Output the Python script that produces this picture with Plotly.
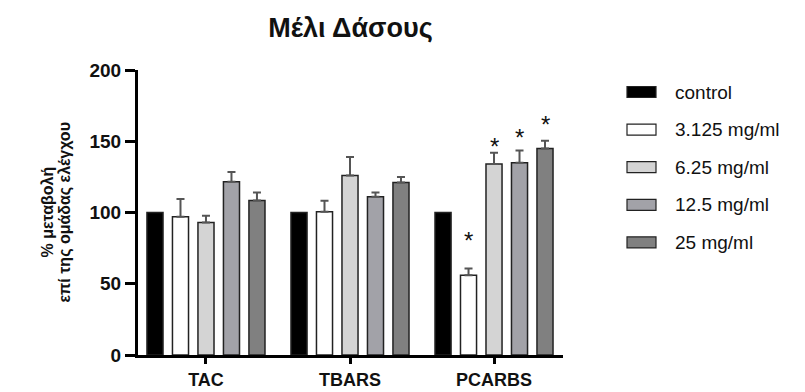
import plotly.graph_objects as go

categories = ["TAC", "TBARS", "PCARBS"]
series_names = ["control", "3.125 mg/ml", "6.25 mg/ml", "12.5 mg/ml", "25 mg/ml"]
control = [100, 100, 100]
control_err = [0, 0, 0]
dose_3125 = [97, 100.5, 56]
dose_3125_err = [12.5, 7.7, 4.7]
dose_625 = [93, 126, 134]
dose_625_err = [4.7, 13, 8]
dose_125 = [121.5, 111, 135]
dose_125_err = [7, 3, 8.5]
dose_25 = [108.5, 121, 145]
dose_25_err = [5.6, 4, 5.4]
# significance markers (PCARBS, treatments vs control): level
star_category = "PCARBS"
star_series = ["3.125 mg/ml", "6.25 mg/ml", "12.5 mg/ml", "25 mg/ml"]
star_level = [85, 151, 157.5, 167]
y_ticks = [0, 50, 100, 150, 200]
y_title_lines = ["% μεταβολή", "επί της ομάδας ελέγχου"]

values = [control, dose_3125, dose_625, dose_125, dose_25]
errors = [control_err, dose_3125_err, dose_625_err, dose_125_err, dose_25_err]
colors = ["#000000", "#ffffff", "#d4d4d4", "#a2a2a8", "#808080"]

W, H = 805, 392
L, R, T, B = 138, 242, 70, 37
PW, PH = W - L - R, H - T - B
FONT = "Arial, Liberation Sans, sans-serif"

fig = go.Figure()
for name, v, e, c in zip(series_names, values, errors, colors):
    fig.add_trace(go.Bar(
        x=categories, y=v, name=name,
        marker=dict(color=c, line=dict(color="#222222", width=1.5)),
        error_y=dict(type="data", array=e, symmetric=False, arrayminus=[0] * len(e),
                     color="#555555", thickness=2, width=4, visible=any(x > 0 for x in e)),
        showlegend=False,
    ))

n = len(series_names)
bargap = 0.115
bargroupgap = 0.37
slot = (1 - bargap) / n
ci = categories.index(star_category)
for s, lvl in zip(star_series, star_level):
    k = series_names.index(s)
    xpos = ci - (1 - bargap) / 2 + slot * (k + 0.5)
    fig.add_annotation(x=xpos, y=lvl, xref="x", yref="y", text="*", showarrow=False,
                       font=dict(family=FONT, size=24, color="#111111"),
                       yanchor="middle", yshift=-7)


def px2paper(px, py):
    return (px - L) / PW, (H - B - py) / PH


# custom legend
for i, (name, c) in enumerate(zip(series_names, colors)):
    cy = 92 + 37.6 * i
    x0, y0 = px2paper(627, cy - 5.5)
    x1, y1 = px2paper(656, cy + 5.5)
    fig.add_shape(type="rect", xref="paper", yref="paper", x0=x0, x1=x1, y0=y0, y1=y1,
                  fillcolor=c, line=dict(color="#222222", width=1.2))
    tx, ty = px2paper(673, cy)
    fig.add_annotation(xref="paper", yref="paper", x=tx, y=ty, text=name, showarrow=False,
                       xanchor="left", yanchor="middle",
                       font=dict(family=FONT, size=19, color="#111111"))

# y-axis title (two lines)
for line, cx in zip(y_title_lines, [47, 64]):
    ax, ay = px2paper(cx, (T + H - B) / 2)
    fig.add_annotation(xref="paper", yref="paper", x=ax, y=ay,
                       text="<b>" + line + "</b>", showarrow=False,
                       textangle=-90, xanchor="center", yanchor="middle",
                       font=dict(family=FONT, size=16, color="#111111"))

fig.update_layout(
    width=W, height=H,
    margin=dict(l=L, r=R, t=T, b=B, pad=0),
    paper_bgcolor="white", plot_bgcolor="white",
    barmode="group", bargap=bargap, bargroupgap=bargroupgap,
    title=dict(text="<b>Μέλι Δάσους</b>", x=0.5, xref="paper", xanchor="center",
               y=1 - 28 / H, yref="container", yanchor="middle",
               font=dict(family=FONT, size=27, color="#111111")),
    font=dict(family=FONT, color="#111111"),
    xaxis=dict(range=[-0.472, 2.479], showline=True, linecolor="black", linewidth=3,
               ticks="outside", ticklen=6, tickwidth=2.5, tickcolor="black",
               showgrid=False, zeroline=False, automargin=False,
               tickfont=dict(family=FONT, size=18, color="#111111", weight="bold")),
    yaxis=dict(range=[0, 200], tickvals=y_ticks, showline=True, linecolor="black", linewidth=3,
               ticks="outside", ticklen=10, tickwidth=2.5, tickcolor="black",
               showgrid=False, zeroline=False, automargin=False,
               tickfont=dict(family=FONT, size=19, color="#111111", weight="bold")),
)

fig.write_html("out.html", config={"displayModeBar": False},
               post_script="document.body.style.margin='0';document.body.style.padding='0';")
